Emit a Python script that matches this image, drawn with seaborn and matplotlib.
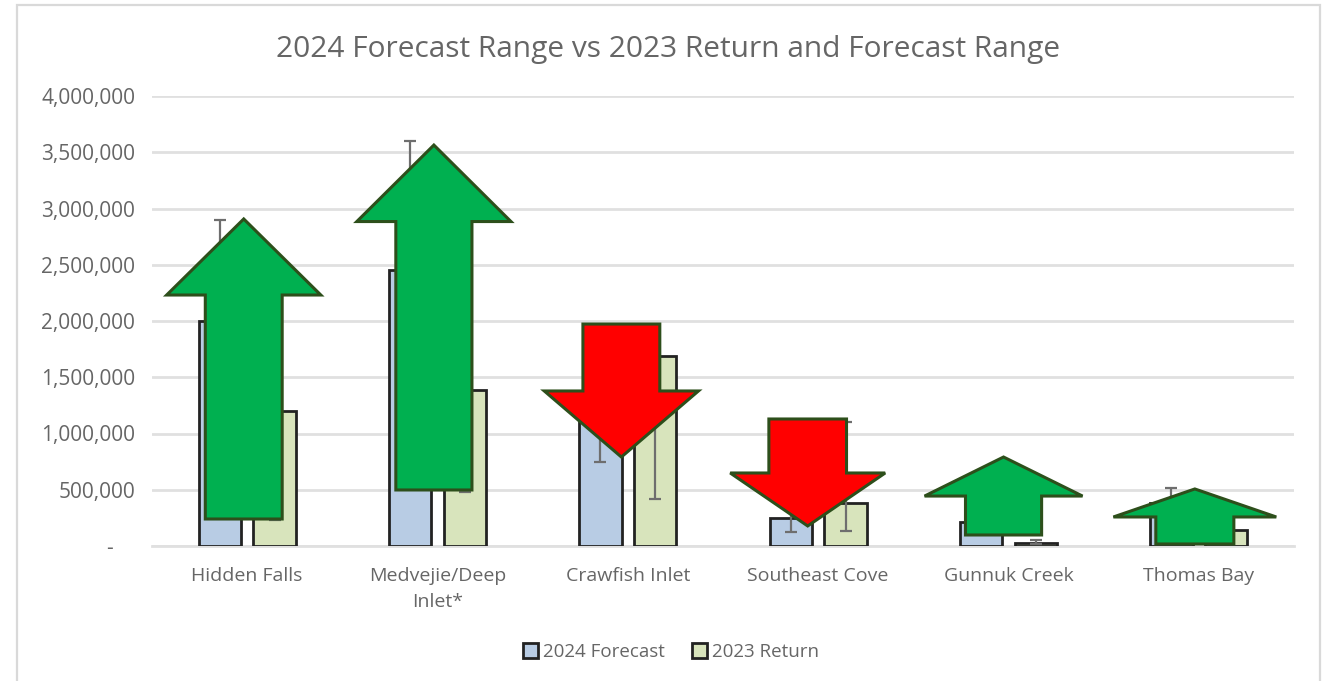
import numpy as np
import pandas as pd
import matplotlib
matplotlib.use('Agg')
import matplotlib.pyplot as plt
import seaborn as sns
from matplotlib.patches import Polygon, Rectangle
from matplotlib.ticker import FuncFormatter

# bar values
sites = ['Hidden Falls', 'Medvejie/Deep\nInlet*', 'Crawfish Inlet',
         'Southeast Cove', 'Gunnuk Creek', 'Thomas Bay']
forecast_2024 = [2000000, 2450000, 1200000, 250000, 210000, 380000]
return_2023 = [1200000, 1390000, 1690000, 380000, 30000, 140000]

# forecast ranges, partly hidden behind the arrows
forecast_low = [1100000, 1500000, 750000, 125000, 120000, 250000]
forecast_high = [2900000, 3600000, 1650000, 500000, 350000, 515000]
return_low = [235000, 480000, 420000, 133000, 15000, 60000]
return_high = [2000000, 2400000, 1850000, 1105000, 55000, 220000]

# arrows: tail, head base and tip in fish, plus offset and half widths in category units
arrow_tail = [240000, 498000, 1973000, 1129000, 98000, 18000]
arrow_neck = [2231000, 2884000, 1378000, 649000, 444000, 258000]
arrow_tip = [2907000, 3564000, 791000, 178000, 791000, 507000]
arrow_shift = [-0.018, -0.019, -0.034, -0.055, -0.026, -0.021]
arrow_head = [0.405, 0.405, 0.405, 0.407, 0.415, 0.428]
arrow_shaft = [0.202, 0.200, 0.202, 0.204, 0.200, 0.205]
arrow_color = ['#00b050', '#00b050', '#ff0000', '#ff0000', '#00b050', '#00b050']

GRID = '#e0e0e0'
TEXT = '#666666'

df = pd.DataFrame({'site': sites, '2024 Forecast': forecast_2024, '2023 Return': return_2023})
df = df.melt(id_vars='site', var_name='series', value_name='fish')

sns.set_theme(style='white')
plt.rcParams['font.family'] = ['Open Sans', 'DejaVu Sans']

fig = plt.figure(figsize=(13.29, 6.81), dpi=100)
ax = fig.add_axes([152 / 1329, 1 - 546 / 681, (1294 - 152) / 1329, 450 / 681])

sns.barplot(data=df, x='site', y='fish', hue='series', ax=ax,
            palette=['#b8cce4', '#d8e4bc'], saturation=1, width=0.575, gap=0.225,
            edgecolor='#222222', linewidth=2, zorder=3)

# error bars sit on the bar centres
for cont, low, high, vals in zip(ax.containers, [forecast_low, return_low],
                                 [forecast_high, return_high],
                                 [forecast_2024, return_2023]):
    xs = [p.get_x() + p.get_width() / 2 for p in cont]
    vals = np.array(vals)
    yerr = [vals - np.array(low), np.array(high) - vals]
    ax.errorbar(xs, vals, yerr=yerr, fmt='none', ecolor='#6e6e6e', elinewidth=1.6,
                capsize=4, capthick=1.6, zorder=4)

for i in range(len(sites)):
    cx = i + arrow_shift[i]
    head = arrow_head[i]
    shaft = arrow_shaft[i]
    pts = [(cx - shaft, arrow_tail[i]), (cx + shaft, arrow_tail[i]),
           (cx + shaft, arrow_neck[i]), (cx + head, arrow_neck[i]),
           (cx, arrow_tip[i]), (cx - head, arrow_neck[i]),
           (cx - shaft, arrow_neck[i])]
    ax.add_patch(Polygon(pts, closed=True, facecolor=arrow_color[i], edgecolor='#2d4f1b',
                         linewidth=2.2, joinstyle='miter', zorder=5, clip_on=False))

ax.set_xlim(-0.5, 5.5)
ax.set_ylim(0, 4000000)
ax.set_yticks(np.arange(0, 4000001, 500000))
ax.yaxis.set_major_formatter(FuncFormatter(lambda v, _: f'{int(v):,}' if v > 0 else '-    '))
ax.set_xlabel('')
ax.set_ylabel('')
ax.grid(axis='y', color=GRID, linewidth=2)
ax.set_axisbelow(True)
ax.tick_params(axis='both', length=0, labelcolor=TEXT)
ax.tick_params(axis='y', pad=12, labelsize=15)
ax.tick_params(axis='x', pad=15, labelsize=14)
for lab in ax.get_xticklabels():
    lab.set_linespacing(1.55)
sns.despine(ax=ax, left=True, top=True, right=True)
ax.spines['bottom'].set_color(GRID)
ax.spines['bottom'].set_linewidth(2)

ax.legend(loc='center', bbox_to_anchor=(671 / 1329, 1 - 652 / 681),
          bbox_transform=fig.transFigure, ncol=2, frameon=False, fontsize=13.5,
          labelcolor=TEXT, handlelength=0.8, handleheight=0.8, handletextpad=0.3,
          columnspacing=1.4)
for h in ax.get_legend().legend_handles:
    h.set_linewidth(2)

fig.text(668 / 1329, 1 - 50 / 681, '2024 Forecast Range vs 2023 Return and Forecast Range',
         ha='center', va='center', fontsize=21.5, color=TEXT)

# outer chart border, open at the bottom edge of the image
fig.add_artist(Rectangle((17 / 1329, -0.02), (1320 - 17) / 1329, 1.02 - 5 / 681,
                         transform=fig.transFigure, fill=False, edgecolor='#d9d9d9', linewidth=1.6))

fig.savefig('out.png', dpi=100)
